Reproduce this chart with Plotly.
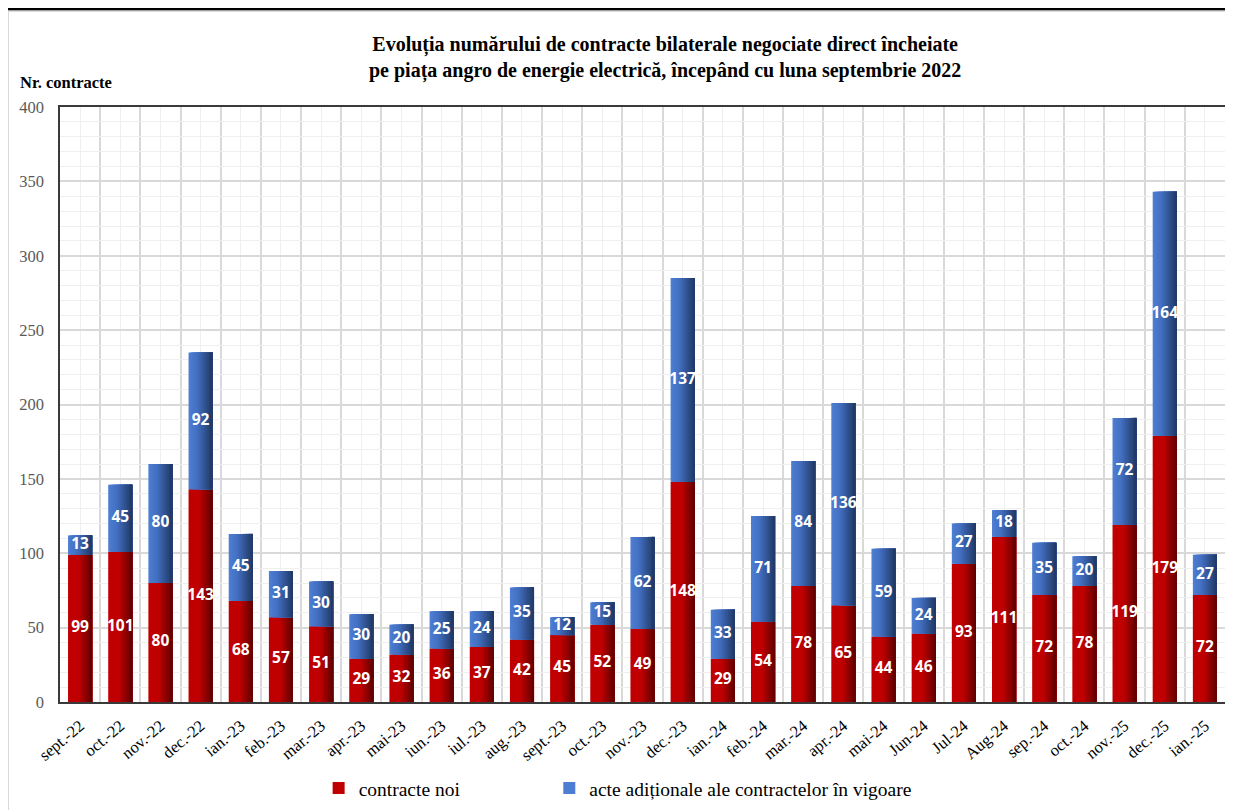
import plotly.graph_objects as go

categories = ["sept.-22", "oct.-22", "nov.-22", "dec.-22", "ian.-23", "feb.-23", "mar.-23",
              "apr.-23", "mai-23", "iun.-23", "iul.-23", "aug.-23", "sept.-23", "oct.-23",
              "nov.-23", "dec.-23", "ian.-24", "feb.-24", "mar.-24", "apr.-24", "mai-24",
              "Jun-24", "Jul-24", "Aug-24", "sep.-24", "oct.-24", "nov.-25", "dec.-25", "ian.-25"]
contracte_noi = [99, 101, 80, 143, 68, 57, 51, 29, 32, 36, 37, 42, 45, 52, 49, 148, 29, 54, 78,
                 65, 44, 46, 93, 111, 72, 78, 119, 179, 72]
acte_aditionale = [13, 45, 80, 92, 45, 31, 30, 30, 20, 25, 24, 35, 12, 15, 62, 137, 33, 71, 84,
                   136, 59, 24, 27, 18, 35, 20, 72, 164, 27]
y_ticks = [0, 50, 100, 150, 200, 250, 300, 350, 400]

SERIF = "'Liberation Serif', 'Times New Roman', serif"
x = list(range(len(categories)))
BW = 0.6


def lerp(c1, c2, t):
    a = [int(c1[i:i + 2], 16) for i in (1, 3, 5)]
    b = [int(c2[i:i + 2], 16) for i in (1, 3, 5)]
    return "#%02x%02x%02x" % tuple(round(a[i] + (b[i] - a[i]) * t) for i in range(3))


def grad(stops, f):
    for (f0, c0), (f1, c1) in zip(stops, stops[1:]):
        if f0 <= f <= f1:
            return lerp(c0, c1, (f - f0) / (f1 - f0) if f1 > f0 else 0)
    return stops[-1][1]


red_stops = [(0.0, "#C00000"), (0.45, "#C00000"), (1.0, "#5E0000")]
blue_stops = [(0.0, "#4E7ED2"), (0.35, "#4370C2"), (1.0, "#1F3763")]

fig = go.Figure()

series = [
    ("contracte noi", contracte_noi, [0] * len(x), red_stops, "legend"),
    ("acte adiționale ale contractelor în vigoare", acte_aditionale, contracte_noi, blue_stops, "legend2"),
]

n_strips = 14
for name, vals, base, stops, leg in series:
    fig.add_trace(go.Bar(x=x, y=vals, base=base, width=BW, offset=-BW / 2, name=name,
                         marker=dict(color=stops[0][1], line=dict(width=0)),
                         showlegend=True, legend=leg, hoverinfo="skip"))
    for k in range(1, n_strips):
        f = k / n_strips
        col = grad(stops, f + 0.5 / n_strips)
        fig.add_trace(go.Bar(x=x, y=vals, base=base, width=BW * (1 - f),
                             offset=-BW / 2 + BW * f,
                             marker=dict(color=col, line=dict(width=0)),
                             showlegend=False, hoverinfo="skip"))

# data labels
lbl_font = dict(family="'Open Sans'", size=15.5, color="white", weight="bold")
fig.add_trace(go.Scatter(x=x, y=[v / 2 for v in contracte_noi], mode="text",
                         text=[str(v) for v in contracte_noi], textfont=lbl_font,
                         showlegend=False, hoverinfo="skip"))
fig.add_trace(go.Scatter(x=x, y=[n + a / 2 for n, a in zip(contracte_noi, acte_aditionale)],
                         mode="text", text=[str(v) for v in acte_aditionale], textfont=lbl_font,
                         showlegend=False, hoverinfo="skip"))

leg_font = dict(family=SERIF, size=19.5, color="black")
fig.update_layout(
    width=1225, height=802,
    margin=dict(l=52, r=8, t=99, b=108, autoexpand=False),
    paper_bgcolor="white", plot_bgcolor="white",
    barmode="overlay",
    font=dict(family=SERIF, color="black"),
    legend=dict(orientation="h", x=0.222, xanchor="left", y=-0.145, yanchor="middle",
                font=leg_font, itemwidth=30, bgcolor="rgba(0,0,0,0)"),
    legend2=dict(orientation="h", x=0.42, xanchor="left", y=-0.145, yanchor="middle",
                 font=leg_font, itemwidth=30, bgcolor="rgba(0,0,0,0)"),
    xaxis=dict(range=[-0.5, len(x) - 0.5], tickvals=x, ticktext=categories, tickangle=-40,
               tickfont=dict(family=SERIF, size=16.5, color="black"), ticklabelstandoff=6,
               showgrid=True, gridcolor="#EFEFEF", gridwidth=1,
               minor=dict(tickvals=[i - 0.5 for i in x], showgrid=True, gridcolor="#D9D9D9",
                          gridwidth=1.5, ticklen=0),
               ticks="", showline=True, linecolor="#3A3A3A", linewidth=1.5, mirror=True,
               zeroline=False, fixedrange=True, automargin=False),
    yaxis=dict(range=[0, 400], tickvals=y_ticks,
               tickfont=dict(family=SERIF, size=16.5, color="#595959"),
               showgrid=True, gridcolor="#D9D9D9", gridwidth=1.5,
               minor=dict(dtick=10, showgrid=True, gridcolor="#EFEFEF", gridwidth=1, ticklen=0),
               ticks="", ticklabelstandoff=11,
               showline=True, linecolor="#3A3A3A", linewidth=1.5, mirror=True,
               zeroline=False, fixedrange=True, automargin=False),
    annotations=[
        dict(text="<b>Evoluția numărului de contracte bilaterale negociate direct încheiate<br>"
                  "pe piața angro de energie electrică, începând cu luna septembrie 2022</b>",
             xref="paper", yref="paper", x=0.519, y=1.083, xanchor="center", yanchor="middle",
             showarrow=False, font=dict(family=SERIF, size=20, color="black")),
        dict(text="<b>Nr. contracte</b>", xref="paper", yref="paper", x=-0.036, y=1.042,
             xanchor="left", yanchor="middle", showarrow=False,
             font=dict(family=SERIF, size=16.5, color="black")),
    ],
    shapes=[
        dict(type="rect", xref="paper", yref="paper", x0=-0.0446, x1=1.02, y0=-0.3, y1=1.1613,
             line=dict(color="#D9D9D9", width=2), fillcolor="rgba(0,0,0,0)", layer="below"),
        dict(type="line", xref="paper", yref="paper", x0=-0.05, x1=1.02, y0=1.1645, y1=1.1645,
             line=dict(color="black", width=2.5)),
    ],
)

fig.write_html("out.html")
